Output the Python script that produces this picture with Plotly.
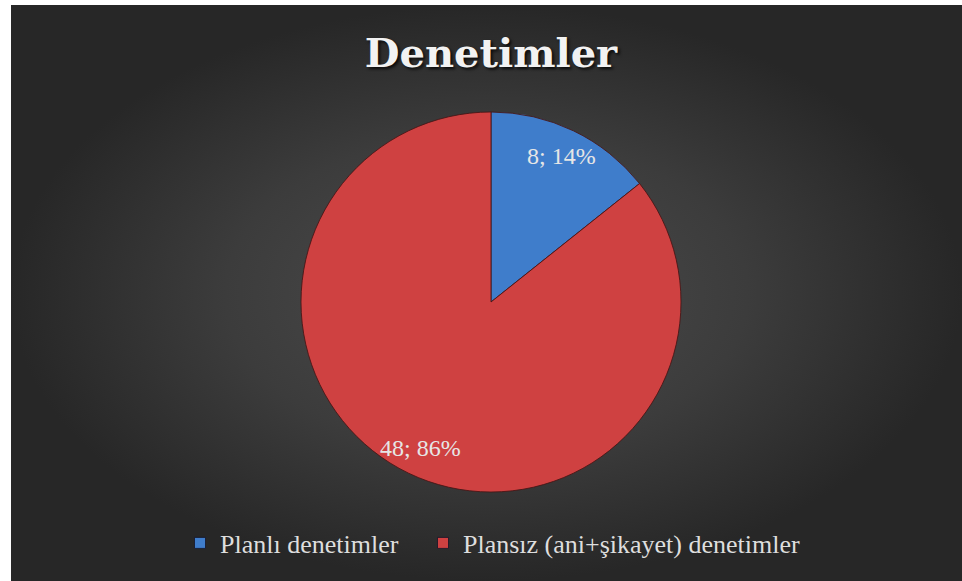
import math
import plotly.graph_objects as go

categories = ["Planlı denetimler", "Plansız (ani+şikayet) denetimler"]
values = [8, 48]
colors = ["#3F7DCB", "#CF4141"]
title_text = "Denetimler"

W, H = 962, 581
cx, cy, r = 491, 302, 190

fig = go.Figure()

# background with radial gradient (hidden cartesian axes)
x0 = 11 / W
y1 = 1 - 5 / H
fig.add_trace(go.Scatter(
    x=[x0, 1, 1, x0, x0], y=[0, 0, y1, y1, 0],
    mode="lines", line=dict(width=0), fill="toself",
    fillgradient=dict(type="radial",
                      colorscale=[[0, "#4d4d4d"], [0.55, "#3c3c3c"], [1, "#272727"]]),
    hoverinfo="skip", showlegend=False,
))

fig.add_trace(go.Pie(
    labels=categories, values=values, sort=False, direction="clockwise", rotation=0,
    marker=dict(colors=colors, line=dict(color="rgba(70,20,20,0.85)", width=1)),
    textinfo="none", hoverinfo="label+value+percent", showlegend=False,
    domain=dict(x=[(cx - r) / W, (cx + r) / W], y=[(H - cy - r) / H, (H - cy + r) / H]),
))

# legend entries (one legend per category so spacing can match)
legend_x = [180, 423]
for i, (cat, col) in enumerate(zip(categories, colors)):
    fig.add_trace(go.Scatter(
        x=[None], y=[None], mode="markers", name=cat,
        marker=dict(symbol="square", size=11, color=col,
                    line=dict(color="rgba(20,20,40,0.8)", width=1)),
        legend="legend" if i == 0 else "legend2", showlegend=True,
    ))

# data labels at 0.85 r along each slice mid-angle
total = sum(values)
cum = 0
for v in values:
    mid = (cum + v / 2) / total * 2 * math.pi
    cum += v
    px = cx + 0.85 * r * math.sin(mid)
    py = cy - 0.85 * r * math.cos(mid)
    fig.add_annotation(
        x=px / W, y=1 - py / H, xref="paper", yref="paper",
        xanchor="center", yanchor="middle",
        text=f"{v}; {round(v / total * 100)}%", showarrow=False,
        font=dict(family="Liberation Serif", size=24, color="#e6e6e6"),
    )

leg_common = dict(orientation="h", xanchor="left", y=1 - 543 / H, yanchor="middle",
                  font=dict(family="Liberation Serif", size=26, color="#dedede"),
                  bgcolor="rgba(0,0,0,0)", itemclick=False, itemdoubleclick=False)

fig.update_layout(
    width=W, height=H,
    margin=dict(l=0, r=0, t=0, b=0),
    paper_bgcolor="white", plot_bgcolor="rgba(0,0,0,0)",
    xaxis=dict(range=[0, 1], visible=False, fixedrange=True),
    yaxis=dict(range=[0, 1], visible=False, fixedrange=True),
    title=dict(text=f"<b>{title_text}</b>", x=cx / W, xanchor="center", y=1 - 53 / H, yanchor="middle",
               font=dict(family="DejaVu Serif", size=40, color="#f2f2f2",
                         shadow="2px 2px 3px rgba(0,0,0,0.8)")),
    legend=dict(x=legend_x[0] / W, **leg_common),
    legend2=dict(x=legend_x[1] / W, **leg_common),
    showlegend=True,
)

fig.write_html("out.html", config={"displayModeBar": False},
               post_script="document.body.style.margin='0';")
